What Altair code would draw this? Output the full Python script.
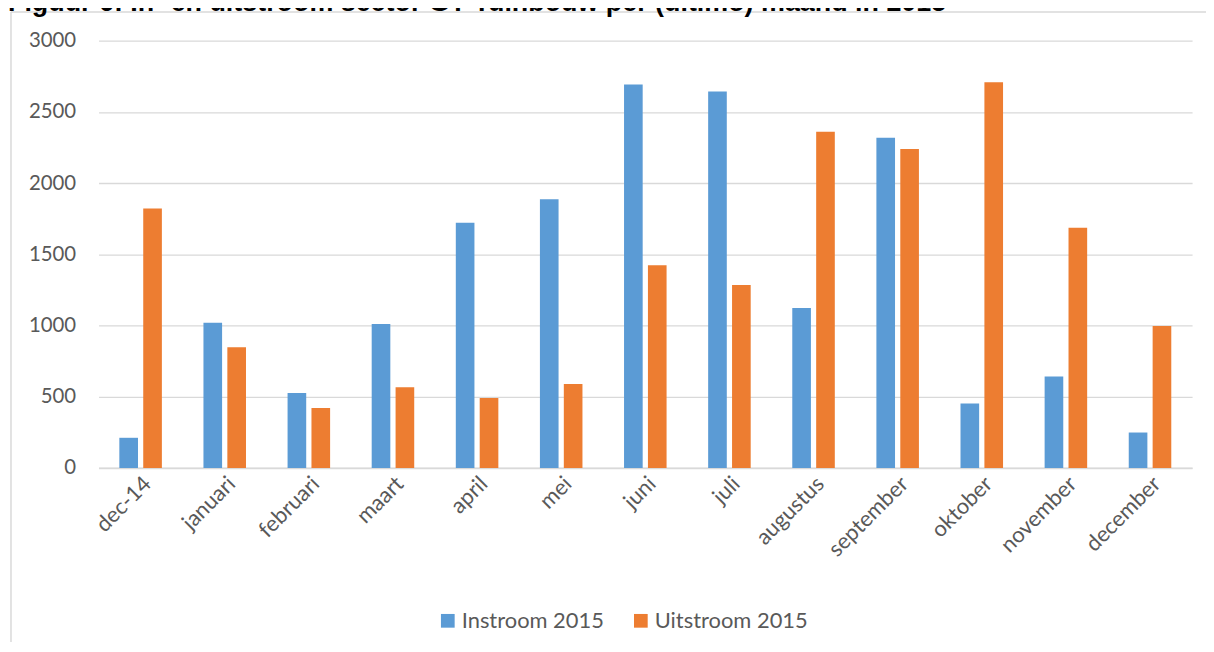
import altair as alt
import pandas as pd

months = ["dec-14", "januari", "februari", "maart", "april", "mei", "juni",
          "juli", "augustus", "september", "oktober", "november", "december"]
series = ["Instroom 2015", "Uitstroom 2015"]
instroom = [212, 1020, 527, 1011, 1722, 1887, 2693, 2644, 1123, 2318, 452, 643, 249]
uitstroom = [1822, 848, 422, 566, 492, 590, 1423, 1284, 2360, 2239, 2709, 1687, 997]
colors = ["#5b9bd5", "#ed7d31"]
y_ticks = [0, 500, 1000, 1500, 2000, 2500, 3000]
title_text = "Figuur 6: In- en uitstroom sector GT Tuinbouw per (ultimo) maand in 2015"

rows = []
for m, a, b in zip(months, instroom, uitstroom):
    rows.append({"maand": m, "reeks": series[0], "waarde": a})
    rows.append({"maand": m, "reeks": series[1], "waarde": b})
df = pd.DataFrame(rows)

W = 1099
H = 429.4
PAD_L, PAD_T, PAD_R, PAD_B = 91, 31.3, 14, 175
GRAY = "#595959"

bars = alt.Chart(df).mark_bar().encode(
    x=alt.X("maand:N", sort=months,
            scale=alt.Scale(paddingInner=0, paddingOuter=0),
            axis=alt.Axis(title=None, labelAngle=-45, labelAlign="right",
                          labelBaseline="middle", labelPadding=12, labelOffset=7,
                          ticks=False, domainColor="#d9d9d9", domainWidth=1.5,
                          grid=False, labelFont="Lato", labelFontSize=22,
                          labelColor=GRAY)),
    xOffset=alt.XOffset("reeks:N", sort=series,
                        scale=alt.Scale(paddingInner=0.22, paddingOuter=0.87)),
    y=alt.Y("waarde:Q", scale=alt.Scale(domain=[0, 3000], nice=False),
            axis=alt.Axis(values=y_ticks, format="d", title=None, ticks=False,
                          domain=False, gridColor="#d9d9d9", gridWidth=1.3,
                          labelPadding=23, labelFont="Lato", labelFontSize=20.5,
                          labelColor=GRAY)),
    color=alt.Color("reeks:N", sort=series,
                    scale=alt.Scale(domain=series, range=colors),
                    legend=alt.Legend(title=None, orient="none", direction="horizontal",
                                      legendX=340, legendY=572, symbolType="square",
                                      symbolSize=190, symbolStrokeWidth=0,
                                      labelFont="Lato", labelFontSize=22, labelColor=GRAY,
                                      labelOffset=3, columnPadding=26, padding=0)),
)

one = alt.Data(values=[{}])
frame_left = alt.Chart(one).mark_rule(color="#d9d9d9", strokeWidth=1.5).encode(
    x=alt.value(-88), y=alt.value(-28.8), y2=alt.value(H + PAD_B))
frame_top = alt.Chart(one).mark_rule(color="#d9d9d9", strokeWidth=1.5).encode(
    x=alt.value(-88), x2=alt.value(W + PAD_R), y=alt.value(-28.8))

title = alt.Chart(alt.Data(values=[{"t": title_text}])).mark_text(
    align="left", baseline="alphabetic", font="Liberation Sans", fontWeight="bold",
    fontSize=27, color="#000000"
).encode(x=alt.value(-PAD_L), y=alt.value(-30.3), text="t:N")

chart = alt.layer(frame_left, frame_top, title, bars).properties(
    width=W, height=H,
    autosize=alt.AutoSizeParams(type="none"),
    padding={"left": PAD_L, "top": PAD_T, "right": PAD_R, "bottom": PAD_B},
    background="white",
).configure_view(stroke=None)

chart.save("out.html", embed_options={"renderer": "svg", "actions": False})
